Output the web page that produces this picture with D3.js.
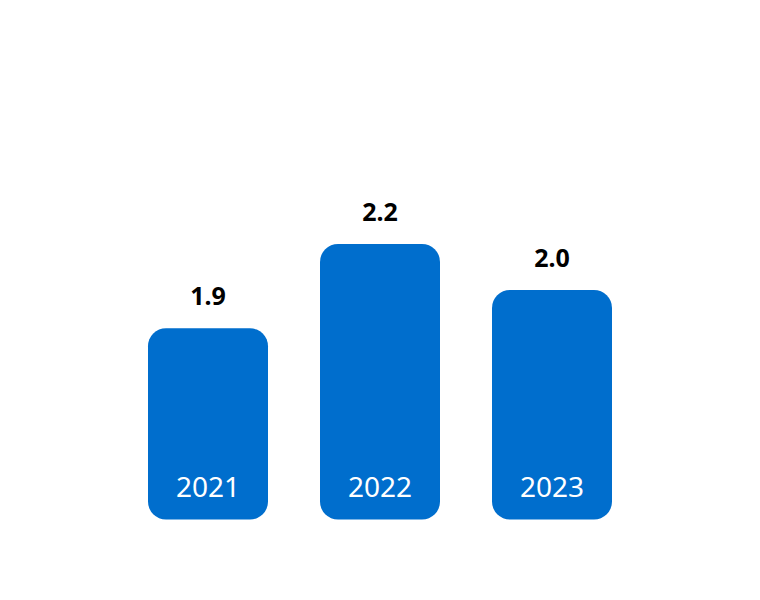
<!DOCTYPE html>
<html>
<head>
<meta charset="utf-8">
<script src="https://cdn.jsdelivr.net/npm/d3@7"></script>
<style>
  html, body { margin: 0; padding: 0; background: #fff; }
  svg { display: block; }
</style>
</head>
<body>
<svg id="chart" width="760" height="600"></svg>
<script>
// data (labels are shown rounded to one decimal)
var years = ["2021", "2022", "2023"];
var values = [1.94, 2.16, 2.04];

var width = 760, height = 600;
var barColor = "#006ecd";

var svg = d3.select("#chart");

var x = d3.scaleBand()
    .domain(years)
    .range([122, 638])
    .paddingInner(52 / 172)
    .paddingOuter(26 / 172);

// the value axis does not start at zero in the original
var y = d3.scaleLinear()
    .domain([1.44, 2.16])
    .range([519.5, 244]);

var fmt = d3.format(".1f");

var rows = years.map(function(yr, i) {
    return { year: yr, value: values[i] };
});

var bars = svg.selectAll("g.bar").data(rows)
    .enter().append("g")
    .attr("class", "bar");

bars.append("rect")
    .attr("x", function(d) { return x(d.year); })
    .attr("y", function(d) { return y(d.value); })
    .attr("width", x.bandwidth())
    .attr("height", function(d) { return y.range()[0] - y(d.value); })
    .attr("rx", 18)
    .attr("ry", 18)
    .attr("fill", barColor);

// value labels above the bars
bars.append("text")
    .attr("x", function(d) { return x(d.year) + x.bandwidth() / 2; })
    .attr("y", function(d) { return y(d.value) - 23; })
    .attr("text-anchor", "middle")
    .attr("font-family", "'Noto Sans', sans-serif")
    .attr("font-weight", "bold")
    .attr("font-size", 25)
    .attr("fill", "#000")
    .text(function(d) { return fmt(d.value); });

// year labels inside the bars
bars.append("text")
    .attr("x", function(d) { return x(d.year) + x.bandwidth() / 2; })
    .attr("y", y.range()[0] - 22.5)
    .attr("text-anchor", "middle")
    .attr("font-family", "'Noto Sans', sans-serif")
    .attr("font-size", 28)
    .attr("fill", "#fff")
    .text(function(d) { return d.year; });
</script>
</body>
</html>
